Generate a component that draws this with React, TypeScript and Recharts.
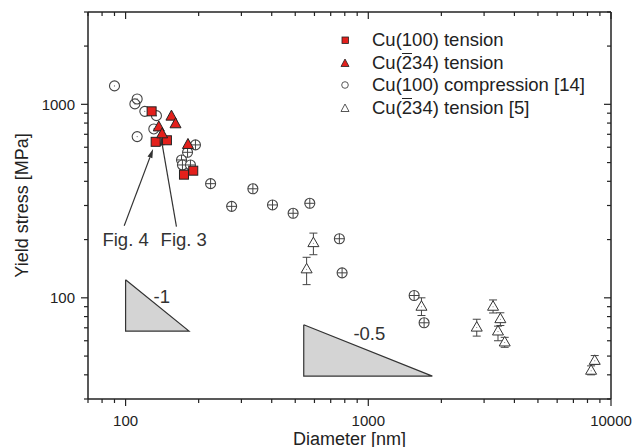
import React from "react";
import { ScatterChart, Scatter, XAxis, YAxis, ErrorBar, ReferenceLine } from "recharts";

const FONT = "'Liberation Sans', Arial, Helvetica, sans-serif";
const INK = "#222";
const RED = "#e3201c";

// log axes: every tick gets a line, only the decades get a label
const xTicks = [70, 80, 90, 100, 200, 300, 400, 500, 600, 700, 800, 900, 1000, 2000, 3000, 4000, 5000, 6000, 7000, 8000, 9000, 10000];
const xLabels = [100, 1000, 10000];
const yTicks = [30, 40, 50, 60, 70, 80, 90, 100, 200, 300, 400, 500, 600, 700, 800, 900, 1000, 2000, 3000];
const yLabels = [100, 1000];

// Cu(100) tension (this work)
const cu100Tension = [
  { x: 128, y: 920 },
  { x: 133, y: 640 },
  { x: 148, y: 652 },
  { x: 174, y: 433 },
  { x: 190, y: 454 },
];

// Cu(-234) tension (this work)
const cu234Tension = [
  { x: 154.5, y: 874 },
  { x: 160.6, y: 798 },
  { x: 137, y: 769 },
  { x: 141.4, y: 708 },
  { x: 180.7, y: 624 },
];

// Cu(100) compression [14], plain points and points with small error bars
const compression = [
  { x: 90, y: 1245 },
  { x: 111.6, y: 1066 },
  { x: 109.2, y: 1005 },
  { x: 120, y: 920 },
  { x: 134, y: 874 },
  { x: 130.7, y: 746 },
  { x: 111.6, y: 681 },
];
const compressionErr = [
  { x: 194, y: 617 },
  { x: 180, y: 565 },
  { x: 170, y: 516 },
  { x: 171.5, y: 486 },
  { x: 185, y: 486 },
  { x: 224, y: 389 },
  { x: 334.5, y: 366 },
  { x: 273.5, y: 297 },
  { x: 403, y: 302 },
  { x: 490, y: 273.5 },
  { x: 574, y: 308 },
  { x: 760, y: 202 },
  { x: 780, y: 134.6 },
  { x: 1545, y: 102.8 },
  { x: 1698, y: 74.3 },
];

// Cu(-234) tension [5], err = [below, above]
const litTension = [
  { x: 557, y: 142, err: [25, 20] },
  { x: 594, y: 194, err: [27, 22] },
  { x: 1656, y: 91, err: [10, 9] },
  { x: 2798, y: 71, err: [7.6, 6.5] },
  { x: 3266, y: 91, err: [7.5, 6.5] },
  { x: 3500, y: 78.5, err: [6.6, 5.2] },
  { x: 3423, y: 67.8, err: [7.8, 3.6] },
  { x: 3648, y: 59.5, err: [4, 3] },
  { x: 8570, y: 47.8, err: [2.5, 2.5] },
  { x: 8280, y: 42.5, err: [2.5, 2] },
];

// slope guide triangles (closed outlines)
const slopeOne = [
  { x: 100, y: 124 },
  { x: 100, y: 67.3 },
  { x: 182.5, y: 67.3 },
  { x: 100, y: 124 },
];
const slopeHalf = [
  { x: 542, y: 72.6 },
  { x: 542, y: 39.4 },
  { x: 1836, y: 39.4 },
  { x: 542, y: 72.6 },
];

const notes = [
  { x: 100, y: 200, text: "Fig. 4" },
  { x: 173.6, y: 200, text: "Fig. 3" },
  { x: 141, y: 102, text: "-1" },
  { x: 1010, y: 65, text: "-0.5" },
];

const arrows = [
  { from: { x: 98.7, y: 236 }, to: { x: 129.8, y: 588 } },
  { from: { x: 162, y: 233.6 }, to: { x: 139.7, y: 681 } },
];

function BottomTick({ x, y, payload }: any) {
  const major = xLabels.includes(payload.value);
  return (
    <g>
      <line x1={x} y1={y} x2={x} y2={y + (major ? 7 : 4)} stroke={INK} strokeWidth={1.2} />
      {major && (
        <text x={x} y={y + 26.5} textAnchor="middle" fontSize={15} fill={INK} fontFamily={FONT}>
          {payload.value}
        </text>
      )}
    </g>
  );
}

function TopTick({ x, y, payload }: any) {
  const major = xLabels.includes(payload.value);
  return <line x1={x} y1={y} x2={x} y2={y + (major ? 7 : 4)} stroke={INK} strokeWidth={1.2} />;
}

function LeftTick({ x, y, payload }: any) {
  const major = yLabels.includes(payload.value);
  return (
    <g>
      <line x1={x} y1={y} x2={x - (major ? 7 : 4)} y2={y} stroke={INK} strokeWidth={1.2} />
      {major && (
        <text x={x - 13} y={y + 5.4} textAnchor="end" fontSize={15} fill={INK} fontFamily={FONT}>
          {payload.value}
        </text>
      )}
    </g>
  );
}

function RightTick({ x, y, payload }: any) {
  const major = yLabels.includes(payload.value);
  return <line x1={x} y1={y} x2={x - (major ? 7 : 4)} y2={y} stroke={INK} strokeWidth={1.2} />;
}

const Square = ({ cx, cy }: any) => (
  <rect x={cx - 4.5} y={cy - 4.5} width={9} height={9} fill={RED} stroke="#222" strokeWidth={1} />
);

const RedTri = ({ cx, cy }: any) => (
  <polygon
    points={`${cx},${cy - 5.5} ${cx + 5.5},${cy + 4.5} ${cx - 5.5},${cy + 4.5}`}
    fill={RED}
    stroke="#222"
    strokeWidth={1}
  />
);

const OpenCircle = ({ cx, cy }: any) => (
  <g>
    <circle cx={cx} cy={cy} r={5} fill="none" stroke="#444" strokeWidth={1.1} />
    <circle cx={cx} cy={cy} r={0.6} fill="#666" />
  </g>
);

const CrossCircle = ({ cx, cy }: any) => (
  <g>
    <circle cx={cx} cy={cy} r={5} fill="#fff" stroke="#444" strokeWidth={1.1} />
    <line x1={cx - 5} y1={cy} x2={cx + 5} y2={cy} stroke="#444" strokeWidth={1} />
    <line x1={cx} y1={cy - 5} x2={cx} y2={cy + 5} stroke="#444" strokeWidth={1} />
  </g>
);

const OpenTri = ({ cx, cy }: any) => (
  <g>
    <polygon
      points={`${cx},${cy - 5} ${cx + 5.5},${cy + 4.5} ${cx - 5.5},${cy + 4.5}`}
      fill="#fff"
      stroke="#333"
      strokeWidth={1}
    />
    <circle cx={cx} cy={cy + 1} r={0.5} fill="#666" />
  </g>
);

const NoteText = ({ cx, cy, payload }: any) => (
  <text x={cx} y={cy} dy="0.35em" textAnchor="middle" fontSize={18.5} fill="#333" fontFamily={FONT}>
    {payload.text}
  </text>
);

const Nothing = () => <g />;

function Arrow({ x1, y1, x2, y2 }: any) {
  const a = Math.atan2(y2 - y1, x2 - x1);
  const len = 9;
  const half = 2.6;
  const bx = x2 - len * Math.cos(a);
  const by = y2 - len * Math.sin(a);
  const px = -Math.sin(a) * half;
  const py = Math.cos(a) * half;
  return (
    <g>
      <line x1={x1} y1={y1} x2={bx} y2={by} stroke="#333" strokeWidth={1.2} />
      <polygon points={`${x2},${y2} ${bx + px},${by + py} ${bx - px},${by - py}`} fill="#333" />
    </g>
  );
}

// bar over the 2 of the Miller index
const Bar2 = () => (
  <span style={{ display: "inline-block", borderTop: "1.5px solid #222", lineHeight: "17px" }}>2</span>
);

function LegendMark({ kind }: { kind: string }) {
  return (
    <svg width={20} height={14} style={{ display: "block" }}>
      {kind === "sq" && <rect x={7} y={4} width={6.5} height={6.5} fill={RED} stroke="#222" strokeWidth={0.8} />}
      {kind === "tri" && <polygon points="10,3 14,10.5 6,10.5" fill={RED} stroke="#222" strokeWidth={0.8} />}
      {kind === "circ" && <circle cx={10} cy={7} r={3.3} fill="none" stroke="#444" strokeWidth={0.9} />}
      {kind === "otri" && <polygon points="10,3 14,10.5 6,10.5" fill="none" stroke="#444" strokeWidth={0.9} />}
    </svg>
  );
}

const legendRows = [
  { kind: "sq", label: <>Cu(100) tension</> },
  { kind: "tri", label: <>Cu(<Bar2 />34) tension</> },
  { kind: "circ", label: <>Cu(100) compression [14]</> },
  { kind: "otri", label: <>Cu(<Bar2 />34) tension [5]</> },
];

export default function App() {
  return (
    <div style={{ position: "absolute", left: 0, top: 0, width: 633, height: 447, background: "#fff", fontFamily: FONT }}>
      <ScatterChart width={633} height={447} margin={{ top: 11, right: 21, bottom: 0, left: 0 }}>
        <XAxis
          type="number"
          dataKey="x"
          scale="log"
          domain={[70, 10000]}
          allowDataOverflow
          ticks={xTicks}
          interval={0}
          tickSize={0}
          tickMargin={0}
          tick={<BottomTick />}
          tickLine={false}
          axisLine={{ stroke: INK, strokeWidth: 1.5 }}
          height={48}
          label={{ value: "Diameter [nm]", position: "insideBottom", offset: 2.5, fontSize: 18, fill: INK, fontFamily: FONT }}
        />
        <XAxis
          xAxisId="top"
          orientation="top"
          type="number"
          dataKey="x"
          scale="log"
          domain={[70, 10000]}
          allowDataOverflow
          ticks={xTicks}
          interval={0}
          tickSize={0}
          tickMargin={0}
          tick={<TopTick />}
          tickLine={false}
          axisLine={{ stroke: INK, strokeWidth: 1.5 }}
          height={1}
        />
        <YAxis
          type="number"
          dataKey="y"
          scale="log"
          domain={[30, 3000]}
          allowDataOverflow
          ticks={yTicks}
          interval={0}
          tickSize={0}
          tickMargin={0}
          tick={<LeftTick />}
          tickLine={false}
          axisLine={{ stroke: INK, strokeWidth: 1.5 }}
          width={88}
          label={{
            value: "Yield stress [MPa]",
            angle: -90,
            position: "insideLeft",
            offset: 22,
            fontSize: 18,
            fill: INK,
            fontFamily: FONT,
            style: { textAnchor: "middle" },
          }}
        />
        <YAxis
          yAxisId="right"
          orientation="right"
          type="number"
          dataKey="y"
          scale="log"
          domain={[30, 3000]}
          allowDataOverflow
          ticks={yTicks}
          interval={0}
          tickSize={0}
          tickMargin={0}
          tick={<RightTick />}
          tickLine={false}
          axisLine={{ stroke: INK, strokeWidth: 1.5 }}
          width={1}
        />

        {/* the slope guides sit on the mirrored axes so that those get drawn too */}
        <Scatter
          data={slopeOne}
          xAxisId="top"
          yAxisId="right"
          fill="#d4d4d4"
          line={{ stroke: "#333", strokeWidth: 1.2, fill: "#d4d4d4" }}
          lineType="joint"
          shape={<Nothing />}
          isAnimationActive={false}
        />
        <Scatter
          data={slopeHalf}
          xAxisId="top"
          yAxisId="right"
          fill="#d4d4d4"
          line={{ stroke: "#333", strokeWidth: 1.2, fill: "#d4d4d4" }}
          lineType="joint"
          shape={<Nothing />}
          isAnimationActive={false}
        />

        {arrows.map((a, i) => (
          <ReferenceLine key={i} segment={[a.from, a.to]} ifOverflow="visible" shape={<Arrow />} />
        ))}

        <Scatter data={notes} shape={<NoteText />} isAnimationActive={false} />

        <Scatter data={compression} shape={<OpenCircle />} isAnimationActive={false} />
        <Scatter data={compressionErr} shape={<CrossCircle />} isAnimationActive={false} />
        <Scatter data={litTension} shape={<OpenTri />} isAnimationActive={false}>
          <ErrorBar dataKey="err" direction="y" width={4} stroke="#444" strokeWidth={1} isAnimationActive={false} />
        </Scatter>
        <Scatter data={cu100Tension} shape={<Square />} isAnimationActive={false} />
        <Scatter data={cu234Tension} shape={<RedTri />} isAnimationActive={false} />
      </ScatterChart>

      <div style={{ position: "absolute", left: 335, top: 29, color: INK, fontSize: 18.5, lineHeight: "22.5px" }}>
        {legendRows.map((r, i) => (
          <div key={i} style={{ display: "flex", alignItems: "center", height: 22.5 }}>
            <LegendMark kind={r.kind} />
            <span style={{ marginLeft: 17, whiteSpace: "nowrap" }}>{r.label}</span>
          </div>
        ))}
      </div>
    </div>
  );
}
